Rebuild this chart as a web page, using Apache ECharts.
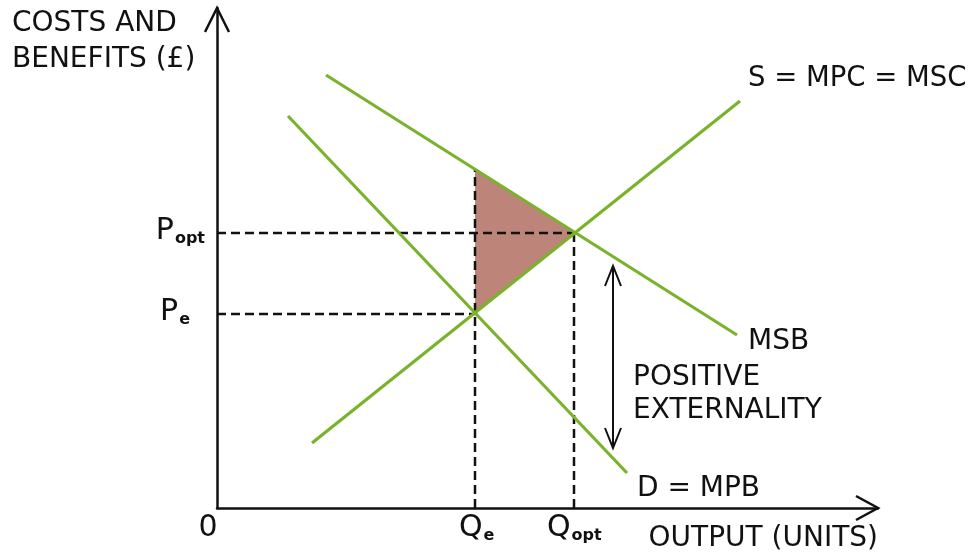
<!DOCTYPE html>
<html><head><meta charset="utf-8">
<script src="https://cdn.jsdelivr.net/npm/echarts@6/dist/echarts.min.js"></script>
<style>html,body{margin:0;padding:0;background:#fff}#c{width:968px;height:554px}</style>
</head><body><div id="c"></div>
<script>
// Data (units of the diagram's own scale)
const supply = [[95, 65], [523, 407]];      // S = MPC = MSC
const msb = [[109, 433], [520, 173]];       // MSB
const demand = [[71, 392], [410, 35]];      // D = MPB
const qe = 258, qopt = 357, pe = 194, popt = 275, msbAtQe = 338;
const triangle = [[qe, msbAtQe], [qopt, popt], [qe, pe]];
const extArrow = [[396, 242], [396, 60]];
const xMax = 661, yMax = 500;

const FONT = 'DejaVu Sans';
const TXT = '#111';
const GREEN = '#7ab32b';
const FS = 28;

const chart = echarts.init(document.getElementById('c'), null, {renderer: 'canvas'});

function chevron(p, dir, hw, h) {
  const [x, y] = p;
  if (dir === 'up') return [[x - hw, y + h], [x, y], [x + hw, y + h]];
  if (dir === 'down') return [[x - hw, y - h], [x, y], [x + hw, y - h]];
  return [[x - h, y - hw], [x, y], [x - h, y + hw]];
}

const rich = {
  m: {fontFamily: FONT, fontSize: 30, fill: TXT, lineHeight: 30},
  s: {fontFamily: FONT, fontSize: 16, fontWeight: 'bold', fill: TXT, lineHeight: 30, padding: [16, 0, 0, 1]}
};

function txt(p, text, opt) {
  return {
    type: 'text',
    style: Object.assign({text: text, x: p[0], y: p[1], fill: TXT, font: FS + 'px "' + FONT + '"'}, opt)
  };
}

chart.setOption({
  animation: false,
  grid: {left: 217, top: 8, width: xMax, height: yMax},
  xAxis: {
    type: 'value', min: 0, max: xMax,
    axisLine: {show: true, lineStyle: {color: TXT, width: 2.5}},
    axisTick: {show: false}, axisLabel: {show: false}, splitLine: {show: false},
    name: 'OUTPUT (UNITS)', nameLocation: 'end', nameGap: 0,
    nameTextStyle: {fontFamily: FONT, fontSize: FS, color: TXT, align: 'right', verticalAlign: 'top', padding: [17, 0, 0, 0]}
  },
  yAxis: {
    type: 'value', min: 0, max: yMax,
    axisLine: {show: true, lineStyle: {color: TXT, width: 2.5}},
    axisTick: {show: false}, axisLabel: {show: false}, splitLine: {show: false},
    name: 'COSTS AND\nBENEFITS (£)', nameLocation: 'end', nameGap: 0,
    nameTextStyle: {fontFamily: FONT, fontSize: FS, color: TXT, align: 'left', verticalAlign: 'top', lineHeight: 36, padding: [-2, 0, 0, -205]}
  },
  series: [
    { // shaded triangle
      type: 'custom', z: 1, silent: true,
      renderItem: function (params, api) {
        if (params.dataIndex !== 0) return;
        const pts = triangle.map(p => api.coord(p));
        return {type: 'polygon', shape: {points: pts}, style: {fill: '#bd847a', stroke: null}};
      },
      data: [0]
    },
    { // dashed guides
      type: 'custom', z: 2, silent: true,
      renderItem: function (params, api) {
        if (params.dataIndex !== 0) return;
        const segs = [
          [[0, popt], [qopt, popt]], [[0, pe], [qe, pe]],
          [[qe, 0], [qe, msbAtQe]], [[qopt, 0], [qopt, popt]]
        ];
        return {type: 'group', children: segs.map(s => ({
          type: 'line',
          shape: {x1: api.coord(s[0])[0], y1: api.coord(s[0])[1], x2: api.coord(s[1])[0], y2: api.coord(s[1])[1]},
          style: {stroke: TXT, lineWidth: 2.5, lineDash: [9, 5]}
        }))};
      },
      data: [0]
    },
    {
      type: 'line', z: 3, data: supply, symbol: 'none', lineStyle: {color: GREEN, width: 3.2},
      endLabel: {show: true, formatter: 'S = MPC = MSC', fontFamily: FONT, fontSize: 27.5, color: TXT, offset: [0, -22]}
    },
    {
      type: 'line', z: 3, data: msb, symbol: 'none', lineStyle: {color: GREEN, width: 3.2},
      endLabel: {show: true, formatter: 'MSB', fontFamily: FONT, fontSize: FS, color: TXT, offset: [3, 7]}
    },
    {
      type: 'line', z: 3, data: demand, symbol: 'none', lineStyle: {color: GREEN, width: 3.2},
      endLabel: {show: true, formatter: 'D = MPB', fontFamily: FONT, fontSize: FS, color: TXT, offset: [2, 16]}
    },
    { // arrows (axes + externality) and point labels
      type: 'custom', z: 4, silent: true,
      renderItem: function (params, api) {
        if (params.dataIndex !== 0) return;
        const top = api.coord([0, yMax]);
        const right = api.coord([xMax, 0]);
        const a1 = api.coord(extArrow[0]);
        const a2 = api.coord(extArrow[1]);
        const pOpt = api.coord([0, popt]);
        const pE = api.coord([0, pe]);
        const qE = api.coord([qe, 0]);
        const qOpt = api.coord([qopt, 0]);
        const o = api.coord([0, 0]);
        const st = {stroke: TXT, lineWidth: 2.5, fill: null};
        return {type: 'group', children: [
          {type: 'polyline', shape: {points: chevron(top, 'up', 12, 24)}, style: st},
          {type: 'polyline', shape: {points: chevron(right, 'right', 12, 22)}, style: st},
          {type: 'line', shape: {x1: a1[0], y1: a1[1], x2: a2[0], y2: a2[1]}, style: {stroke: TXT, lineWidth: 2}},
          {type: 'polyline', shape: {points: chevron(a1, 'up', 8, 20)}, style: {stroke: TXT, lineWidth: 2, fill: null}},
          {type: 'polyline', shape: {points: chevron(a2, 'down', 8, 20)}, style: {stroke: TXT, lineWidth: 2, fill: null}},
          txt([pOpt[0] - 12, pOpt[1] - 17], '{m|P}{s|opt}', {rich: rich, align: 'right', verticalAlign: 'top'}),
          txt([pE[0] - 27, pE[1] - 17], '{m|P}{s|e}', {rich: rich, align: 'right', verticalAlign: 'top'}),
          txt([qE[0] - 16, qE[1] + 5], '{m|Q}{s|e}', {rich: rich, align: 'left', verticalAlign: 'top'}),
          txt([qOpt[0] - 27, qOpt[1] + 5], '{m|Q}{s|opt}', {rich: rich, align: 'left', verticalAlign: 'top'}),
          txt([o[0] - 9, o[1] + 5], '{m|0}', {rich: rich, align: 'center', verticalAlign: 'top'}),
          txt([a1[0] + 20, (a1[1] + a2[1]) / 2 + 4], 'POSITIVE\nEXTERNALITY', {align: 'left', verticalAlign: 'top', lineHeight: 33})
        ]};
      },
      data: [0]
    }
  ]
});
</script>
</body></html>
